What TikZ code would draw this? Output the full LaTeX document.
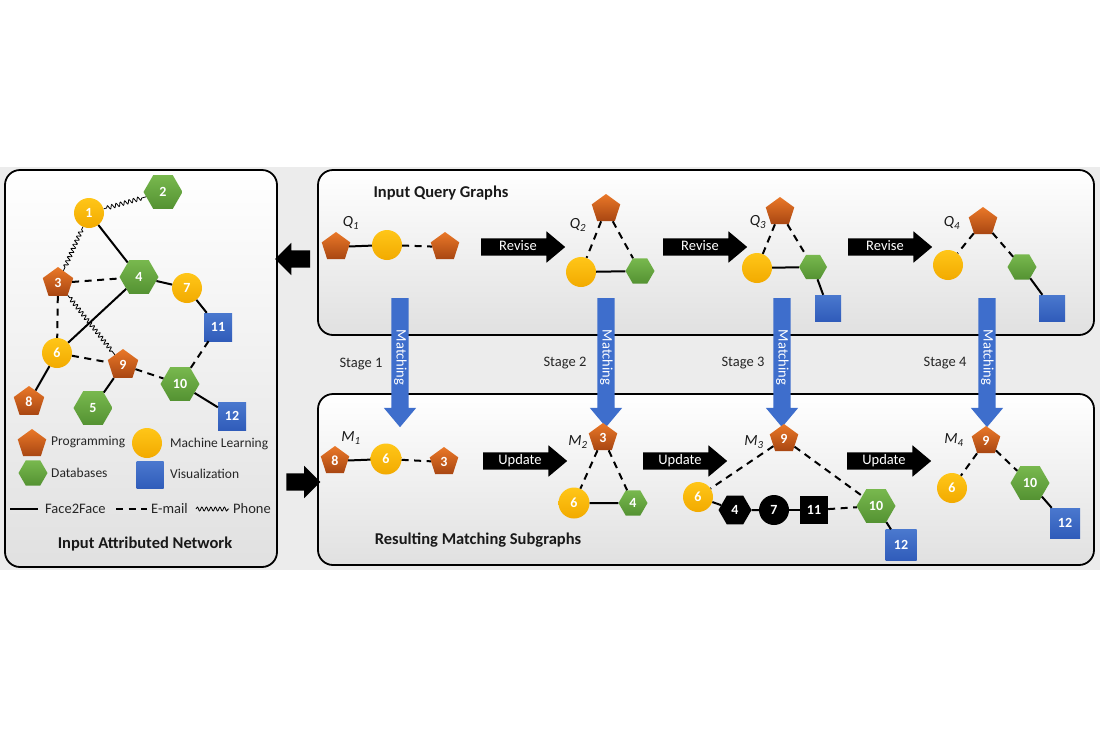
\documentclass[tikz,border=0pt]{standalone}
\usepackage{fontspec}
\setmainfont{Carlito}
\usepackage{xcolor}
\usepackage{tikz}
\usetikzlibrary{positioning,shapes,arrows,decorations.pathmorphing,calc}
\definecolor{progtop}{RGB}{234,120,40}
\definecolor{progbot}{RGB}{168,70,18}
\definecolor{mltop}{RGB}{255,198,24}
\definecolor{mlbot}{RGB}{242,170,0}
\definecolor{dbtop}{RGB}{120,184,78}
\definecolor{dbbot}{RGB}{84,146,50}
\definecolor{vistop}{RGB}{74,120,206}
\definecolor{visbot}{RGB}{48,92,186}
\definecolor{matchblue}{RGB}{62,110,204}
\definecolor{panelgray}{RGB}{236,236,236}

\begin{document}
\begin{tikzpicture}[x=1pt, y=-1pt]
    % Define styles
    \tikzstyle{prognode} = [regular polygon, regular polygon sides=5, minimum size=32pt, inner sep=0pt, top color=progtop, bottom color=progbot, text=white, font=\bfseries\fontsize{14}{14}\selectfont]
    \tikzstyle{mlnode} = [circle, minimum size=30pt, inner sep=0pt, top color=mltop, bottom color=mlbot, text=white, font=\bfseries\fontsize{14}{14}\selectfont]
    \tikzstyle{dbnode} = [regular polygon, regular polygon sides=6, minimum size=39pt, inner sep=0pt, top color=dbtop, bottom color=dbbot, text=white, font=\bfseries\fontsize{14}{14}\selectfont]
    \tikzstyle{visnode} = [rectangle, minimum size=28pt, inner sep=0pt, top color=vistop, bottom color=visbot, text=white, font=\bfseries\fontsize{14}{14}\selectfont]
    \tikzstyle{hidnode} = [fill=black, text=white, inner sep=0pt, font=\bfseries\fontsize{14}{14}\selectfont]
    \tikzstyle{f2fline} = [line width=2pt]
    \tikzstyle{mailline} = [line width=2pt, dash pattern=on 7pt off 5.5pt]
    \tikzstyle{phoneline} = [line width=0.8pt, decorate, decoration={snake, amplitude=2pt, segment length=4.5pt, pre length=3pt, post length=3pt}]
    \tikzstyle{panel} = [rounded corners=15pt, line width=1.8pt, top color=white, bottom color=gray!24]
    \tikzstyle{blockarrow} = [single arrow, fill=black, text=white, single arrow head extend=7pt, single arrow tip angle=80, inner xsep=4pt, inner ysep=3pt, text height=9pt, text depth=2pt, minimum height=84pt, font=\fontsize{14.5}{14.5}\selectfont]
    \tikzstyle{matcharrow} = [blockarrow, fill=matchblue, rotate=-90, minimum height=129pt, single arrow head extend=7.5pt]
    \tikzstyle{boxtitle} = [text=black!90, font=\bfseries\fontsize{16.5}{16.5}\selectfont]
    \tikzstyle{legendtext} = [anchor=west, inner sep=0pt, text=black!85, font=\fontsize{13.5}{13.5}\selectfont]
    \tikzstyle{stagetext} = [text=black!85, font=\fontsize{14.5}{14.5}\selectfont]
    \tikzstyle{graphlabel} = [text=black!90, font=\itshape\fontsize{15.5}{15.5}\selectfont]

    \useasboundingbox (0,0) rectangle (1100,732);

    % Panels
    \fill[panelgray] (0,167) rectangle (1100,570);
    \draw[panel] (5,170) rectangle (277,567);
    \draw[panel] (318,170) rectangle (1094,335);
    \draw[panel] (318,394) rectangle (1094,565);

    % Input attributed network
    \node[mlnode] (n1) at (89,213) {1};
    \node[dbnode] (n2) at (163,192) {2};
    \node[prognode] (n3) at (58,283) {3};
    \node[dbnode] (n4) at (139,277) {4};
    \node[mlnode] (n7) at (187,288) {7};
    \node[visnode] (n11) at (218,327) {11};
    \node[mlnode] (n6) at (57,353) {6};
    \node[prognode] (n9) at (123,365) {9};
    \node[dbnode] (n10) at (180,384) {10};
    \node[prognode] (n8) at (29,402) {8};
    \node[dbnode] (n5) at (93,408) {5};
    \node[visnode] (n12) at (232,416) {12};

    \draw[phoneline] (n1) -- (n2);
    \draw[phoneline] (n1) -- (n3);
    \draw[f2fline] (n1) -- (n4);
    \draw[mailline] (n3) -- (n4);
    \draw[f2fline] (n4) -- (n7);
    \draw[f2fline] (n7) -- (n11);
    \draw[mailline] (n3) -- (n6);
    \draw[f2fline] (n4) -- (n6);
    \draw[phoneline] (n3) -- (n9);
    \draw[mailline] (n6) -- (n9);
    \draw[mailline] (n9) -- (n10);
    \draw[mailline] (n11) -- (n10);
    \draw[f2fline] (n10) -- (n12);
    \draw[f2fline] (n6) -- (n8);
    \draw[f2fline] (n9) -- (n5);

    % Legend
    \node[prognode, minimum size=30pt] (lgprog) at (32,444) {};
    \node[legendtext] (lgprogtext) at (51,442) {Programming};
    \node[mlnode] (lgml) at (147,443) {};
    \node[legendtext] (lgmltext) at (170,444) {Machine Learning};
    \node[dbnode, minimum size=29pt] (lgdb) at (33,473) {};
    \node[legendtext] (lgdbtext) at (51,473) {Databases};
    \node[visnode, minimum size=27pt] (lgvis) at (150,475) {};
    \node[legendtext] (lgvistext) at (170,474) {Visualization};
    \coordinate (lf1) at (10,509);
    \coordinate (lf2) at (38,509);
    \node[legendtext, font=\fontsize{14.5}{14.5}\selectfont, right=7pt of lf2] (lf2ftext) {Face2Face};
    \coordinate (lm1) at (116,509);
    \coordinate (lm2) at (147,509);
    \node[legendtext, font=\fontsize{14.5}{14.5}\selectfont, right=4pt of lm2] (lmailtext) {E-mail};
    \coordinate (lp1) at (196,509);
    \coordinate (lp2) at (229,509);
    \node[legendtext, font=\fontsize{14.5}{14.5}\selectfont, right=4pt of lp2] (lphonetext) {Phone};
    \draw[f2fline] (lf1) -- (lf2);
    \draw[mailline] (lm1) -- (lm2);
    \draw[phoneline, decoration={pre length=0pt, post length=0pt}] (lp1) -- (lp2);
    \node[boxtitle] (nettitle) at (145,544) {Input Attributed Network};

    % Box arrows
    \node[blockarrow, rotate=180, minimum height=35pt, text height=0pt, text depth=0pt, inner ysep=8.5pt, inner xsep=0pt, single arrow head extend=7.5pt, single arrow tip angle=90] (toleft) at (297,259) {};
    \node[blockarrow, minimum height=34pt, text height=0pt, text depth=0pt, inner ysep=8.5pt, inner xsep=0pt, single arrow head extend=7.5pt, single arrow tip angle=90] (toright) at (299,482) {};

    % Input query graphs
    \node[boxtitle] (querytitle) at (441,193) {Input Query Graphs};

    \node[graphlabel] (q1) at (351,223) {Q\textsubscript{1}};
    \node[prognode, minimum size=30pt] (q1a) at (336,247) {};
    \node[mlnode] (q1b) at (387,245) {};
    \node[prognode, minimum size=30pt] (q1c) at (445,247) {};
    \draw[f2fline] (q1a) -- (q1b);
    \draw[mailline] (q1b) -- (q1c);

    \node[graphlabel] (q2) at (578,225) {Q\textsubscript{2}};
    \node[prognode, minimum size=30pt] (q2a) at (606,209) {};
    \node[mlnode] (q2b) at (581,272) {};
    \node[dbnode, minimum size=29pt] (q2c) at (640,271) {};
    \draw[mailline] (q2a) -- (q2b);
    \draw[mailline] (q2a) -- (q2c);
    \draw[f2fline] (q2b) -- (q2c);

    \node[graphlabel] (q3) at (758,222) {Q\textsubscript{3}};
    \node[prognode, minimum size=30pt] (q3a) at (780,212) {};
    \node[mlnode] (q3b) at (757,268) {};
    \node[dbnode, minimum size=28pt] (q3c) at (813,267) {};
    \node[visnode, minimum size=26pt] (q3d) at (828,308) {};
    \draw[mailline] (q3a) -- (q3b);
    \draw[mailline] (q3a) -- (q3c);
    \draw[f2fline] (q3b) -- (q3c);
    \draw[f2fline] (q3c) -- (q3d);

    \node[graphlabel] (q4) at (952,223) {Q\textsubscript{4}};
    \node[prognode, minimum size=30pt] (q4a) at (983,222) {};
    \node[mlnode] (q4b) at (948,265) {};
    \node[dbnode, minimum size=29pt] (q4c) at (1022,267) {};
    \node[visnode, minimum size=26pt] (q4d) at (1052,308) {};
    \draw[mailline] (q4a) -- (q4b);
    \draw[mailline] (q4a) -- (q4c);
    \draw[f2fline] (q4c) -- (q4d);

    \node[blockarrow] (revise1) at (518,247) {Revise};
    \node[blockarrow] (revise2) at (700,247) {Revise};
    \node[blockarrow] (revise3) at (885,247) {Revise};

    % Matching stages
    \node[matcharrow] (match1) at (400,357.5) {Matching};
    \node[matcharrow] (match2) at (606,357.5) {Matching};
    \node[matcharrow] (match3) at (782,357.5) {Matching};
    \node[matcharrow] (match4) at (987,357.5) {Matching};
    \node[stagetext] (stage1) at (361,364) {Stage 1};
    \node[stagetext] (stage2) at (565,363) {Stage 2};
    \node[stagetext] (stage3) at (743,363) {Stage 3};
    \node[stagetext] (stage4) at (945,363) {Stage 4};

    % Resulting matching subgraphs
    \node[graphlabel] (m1) at (351,438) {M\textsubscript{1}};
    \node[prognode, minimum size=30pt] (m1a) at (335,461) {8};
    \node[mlnode, minimum size=31pt] (m1b) at (386,459) {6};
    \node[prognode, minimum size=30pt] (m1c) at (444,462) {3};
    \draw[f2fline] (m1a) -- (m1b);
    \draw[mailline] (m1b) -- (m1c);

    \node[graphlabel] (m2) at (578,442) {M\textsubscript{2}};
    \node[prognode, minimum size=30pt] (m2a) at (603,438) {3};
    \node[mlnode, minimum size=31pt] (m2b) at (574,503) {6};
    \node[dbnode, minimum size=29pt] (m2c) at (633,503) {4};
    \draw[mailline] (m2a) -- (m2b);
    \draw[mailline] (m2a) -- (m2c);
    \draw[f2fline] (m2b) -- (m2c);

    \node[graphlabel] (m3) at (754,442) {M\textsubscript{3}};
    \node[prognode, minimum size=30pt] (m3a) at (784,439) {9};
    \node[mlnode] (m3b) at (698,497) {6};
    \node[hidnode, regular polygon, regular polygon sides=6, minimum size=33pt] (m3c) at (735,510) {4};
    \node[hidnode, circle, minimum size=30pt] (m3d) at (774,510) {7};
    \node[hidnode, rectangle, minimum size=28pt] (m3e) at (814,510) {11};
    \node[dbnode] (m3f) at (876,506) {10};
    \node[visnode, minimum size=31pt] (m3g) at (901,545) {12};
    \draw[mailline] (m3a) -- (m3b);
    \draw[mailline] (m3a) -- (m3f);
    \draw[f2fline] (m3b) -- (m3c);
    \draw[f2fline] (m3c) -- (m3d);
    \draw[f2fline] (m3d) -- (m3e);
    \draw[mailline] (m3e) -- (m3f);
    \draw[f2fline] (m3f) -- (m3g);

    \node[graphlabel] (m4) at (954,440) {M\textsubscript{4}};
    \node[prognode, minimum size=30pt] (m4a) at (986,441) {9};
    \node[mlnode] (m4b) at (952,488) {6};
    \node[dbnode] (m4c) at (1030,483) {10};
    \node[visnode, minimum size=30pt] (m4d) at (1065,523) {12};
    \draw[mailline] (m4a) -- (m4b);
    \draw[mailline] (m4a) -- (m4c);
    \draw[f2fline] (m4c) -- (m4d);

    \node[blockarrow] (update1) at (520,461) {Update};
    \node[blockarrow] (update2) at (680,461) {Update};
    \node[blockarrow] (update3) at (884,461) {Update};

    \node[boxtitle] (resulttitle) at (478,540) {Resulting Matching Subgraphs};
\end{tikzpicture}
\end{document}
